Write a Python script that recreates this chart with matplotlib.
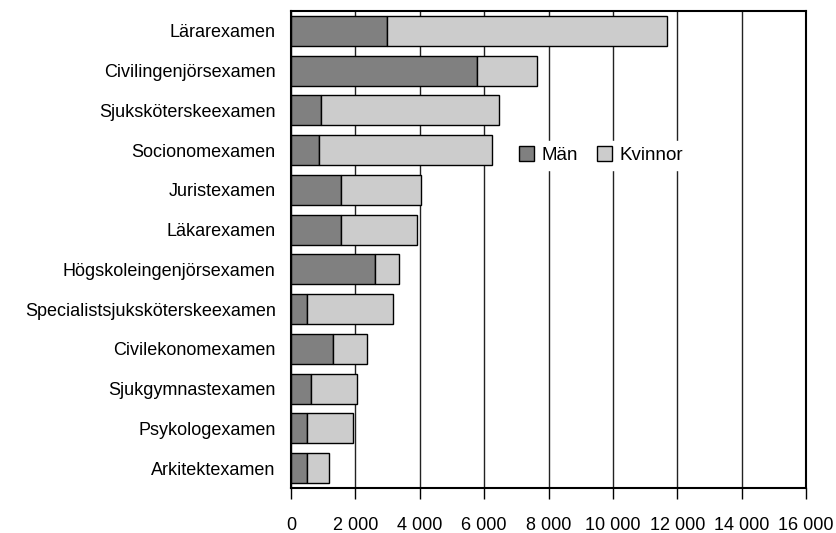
import numpy as np
import matplotlib
matplotlib.use("Agg")
import matplotlib.pyplot as plt
from matplotlib.ticker import FuncFormatter

# Examina per typ, uppdelat på kön
categories = ["Lärarexamen",
              "Civilingenjörsexamen",
              "Sjuksköterskeexamen",
              "Socionomexamen",
              "Juristexamen",
              "Läkarexamen",
              "Högskoleingenjörsexamen",
              "Specialistsjuksköterskeexamen",
              "Civilekonomexamen",
              "Sjukgymnastexamen",
              "Psykologexamen",
              "Arkitektexamen"]
man = [2970, 5770, 920, 870, 1540, 1540, 2610, 490, 1300, 620, 490, 490]
total = [11670, 7630, 6450, 6250, 4030, 3900, 3340, 3160, 2350, 2040, 1920, 1180]
kvinnor = [t - m for t, m in zip(total, man)]

plt.rcParams['font.family'] = ['Liberation Sans', 'DejaVu Sans']

fig = plt.figure(figsize=(8.36, 5.33), dpi=100)
ax = fig.add_axes([291 / 836, 1 - 488 / 533, 515 / 836, 477 / 533])

y = np.arange(len(categories))
ax.barh(y, man, height=0.75, color="#808080", edgecolor="black", linewidth=1, label="Män", zorder=2)
ax.barh(y, kvinnor, left=man, height=0.75, color="#cccccc", edgecolor="black", linewidth=1, label="Kvinnor", zorder=2)

ax.set_xlim(0, 16000)
ax.set_ylim(len(categories) - 0.5, -0.5)
ax.set_xticks(np.arange(0, 16001, 2000))
ax.xaxis.set_major_formatter(FuncFormatter(lambda v, p: "{:,}".format(int(v)).replace(",", " ")))
ax.set_yticks(y)
ax.set_yticklabels(categories)

ax.grid(axis="x", color="#222222", linewidth=1, zorder=0)
ax.set_axisbelow(True)
for s in ax.spines.values():
    s.set_linewidth(1.5)
    s.set_color("black")

ax.tick_params(axis="x", direction="out", length=8, width=1, pad=13, labelsize=13)
ax.tick_params(axis="y", length=0, pad=11, labelsize=13)

leg = ax.legend(loc="center", bbox_to_anchor=(0.602, 0.698), ncol=2, frameon=True,
                fontsize=13.5, handlelength=0.8, handleheight=0.8, handletextpad=0.4,
                columnspacing=1.0, borderpad=0.3, fancybox=False)
leg.get_frame().set_edgecolor("white")
leg.get_frame().set_facecolor("white")
leg.get_frame().set_alpha(1)

plt.savefig("out.png", dpi=100)
